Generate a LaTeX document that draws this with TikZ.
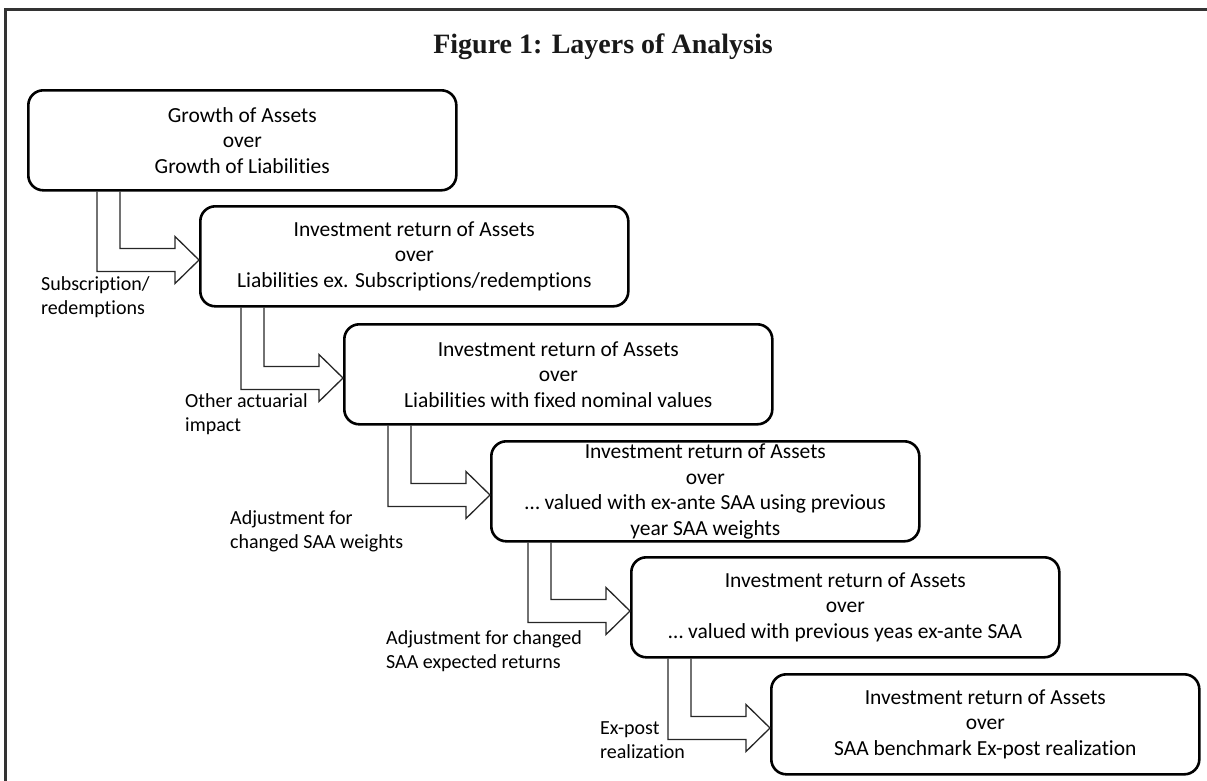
\documentclass[tikz,border=0pt]{standalone}
\usepackage{fontspec}
\setmainfont{Carlito}[Ligatures={NoCommon}]
\newfontfamily\titlefont{Liberation Serif}
\usetikzlibrary{calc}
\begin{document}
\begin{tikzpicture}[x=1pt,y=-1pt,
  box/.style={draw=black, line width=2.6pt, rounded corners=15pt, fill=white,
    minimum width=428pt, minimum height=100pt, anchor=north west, align=center,
    inner sep=0pt, font=\fontsize{21.5}{25.5}\selectfont},
  lbl/.style={anchor=base west, align=left, inner sep=0pt,
    font=\fontsize{20}{24}\selectfont},
  blk/.style={draw=black!85, line width=1.3pt, line join=miter},
  frame/.style={draw=black!80, line width=3pt}]
\useasboundingbox (0,0) rectangle (1207,780);
\draw[frame] (5,800) -- (5,9) -- (1230,9);
\node[font=\titlefont\bfseries\fontsize{28}{30}\selectfont, text=black!90] (title) at (603,47) {Figure 1: Layers of Analysis};
\node[box] (b1) at (27,89) {Growth of Assets\\over\\Growth of Liabilities};
\node[box] (b2) at (199,205) {Investment return of Assets\\over\\Liabilities ex. Subscriptions/redemptions};
\node[box] (b3) at (343,323) {Investment return of Assets\\over\\Liabilities with fixed nominal values};
\node[box] (b4) at (490,440) {Investment return of Assets\\over\\\dots\ valued with ex-ante SAA using previous\\year SAA weights};
\node[box] (b5) at (630,556) {Investment return of Assets\\over\\\dots\ valued with previous yeas ex-ante SAA};
\node[box] (b6) at (770,673) {Investment return of Assets\\over\\SAA benchmark Ex-post realization};
\foreach \a/\b in {b1/b2,b2/b3,b3/b4,b4/b5,b5/b6} {
  \draw[blk] let \p1=(\b.north west), \p2=(\a.south) in
    (\x1-102pt,\y2) -- (\x1-102pt,\y1-66.5pt) -- (\x1-24pt,\y1-66.5pt)
    -- (\x1-24pt,\y1-78.5pt) -- (\x1,\y1-55pt) -- (\x1-24pt,\y1-31.5pt)
    -- (\x1-24pt,\y1-43.5pt) -- (\x1-79pt,\y1-43.5pt) -- (\x1-79pt,\y2);
}
\node[lbl] (l1) at (41,314) {Subscription/\\redemptions};
\node[lbl] (l2) at (185,431) {Other actuarial\\impact};
\node[lbl] (l3) at (230,548) {Adjustment for\\changed SAA weights};
\node[lbl] (l4) at (386,668) {Adjustment for changed\\SAA expected returns};
\node[lbl] (l5) at (600,758) {Ex-post\\realization};
\end{tikzpicture}
\end{document}
